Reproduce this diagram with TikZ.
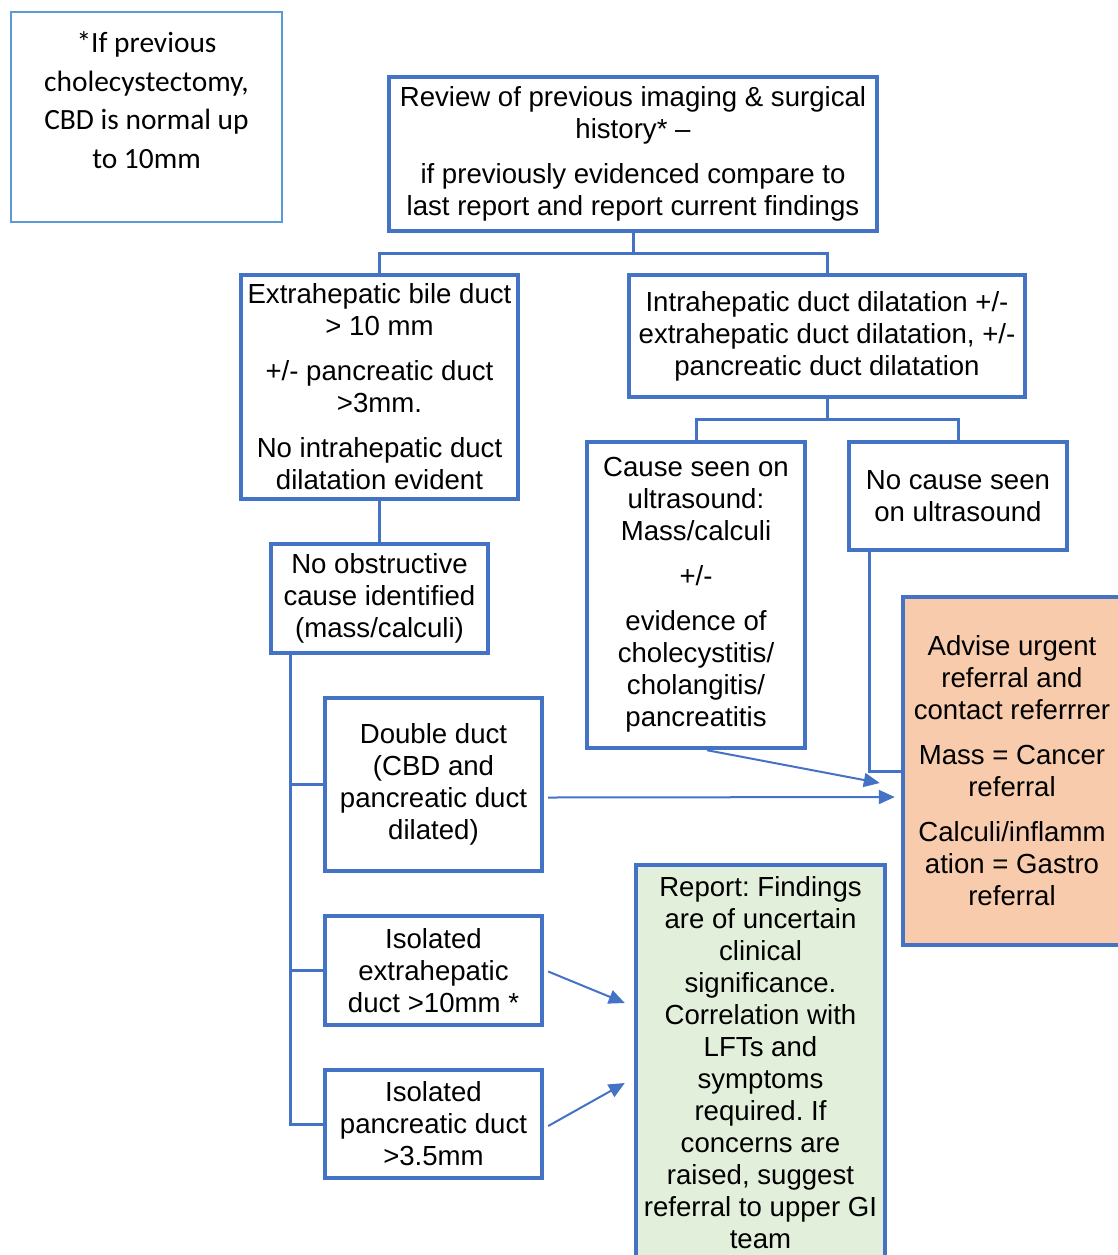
\documentclass[tikz,border=0pt]{standalone}
\usepackage{fontspec}
\setmainfont{Liberation Sans}
\newfontfamily\notefont{Carlito}
\usetikzlibrary{arrows.meta,calc}
\definecolor{bdr}{HTML}{4472C4}
\definecolor{notec}{HTML}{5B9BD5}
\definecolor{orangef}{HTML}{F8CBAD}
\definecolor{greenf}{HTML}{E2EFDA}
\frenchspacing
\begin{document}
\begin{tikzpicture}[x=0.5pt,y=-0.5pt,
 box/.style={draw=bdr, line width=2.2pt, inner sep=0pt, align=center, font=\fontsize{13.8}{16}\selectfont},
 conn/.style={draw=bdr, line width=1.5pt},
 arr/.style={draw=bdr, line width=1pt, -{Triangle[length=8pt,width=7pt]}},
]
\path[use as bounding box] (0,0) rectangle (1118,1255);
\clip (0,0) rectangle (1118,1255);

\node[draw=notec, line width=1pt, minimum width=135.5pt, minimum height=105pt] (note) at (146.5,117) {};
\node[font=\notefont\fontsize{14.7}{19.3}\selectfont, align=center, inner sep=0pt] (notetext) at (146.5,100) {*If previous\\ cholecystectomy,\\ CBD is normal up\\ to 10mm};

\node[box, minimum width=244pt, minimum height=77pt] (top) at (633,154) {Review of previous imaging \& surgical\\ history* –\\[6.5pt] if previously evidenced compare to\\ last report and report current findings};

\node[box, minimum width=138.5pt, minimum height=112pt] (A) at (379.5,387) {Extrahepatic bile duct\\ > 10 mm\\[6.5pt] +/- pancreatic duct\\ >3mm.\\[6.5pt] No intrahepatic duct\\ dilatation evident};

\node[box, minimum width=198pt, minimum height=61pt] (B) at (827,336) {Intrahepatic duct dilatation +/-\\ extrahepatic duct dilatation, +/-\\ pancreatic duct dilatation};

\node[box, minimum width=108.5pt, minimum height=54.5pt] (C) at (379.5,598.5) {No obstructive\\ cause identified\\ (mass/calculi)};

\node[box, minimum width=109pt, minimum height=153pt] (D) at (696,595) {Cause seen on\\ ultrasound:\\ Mass/calculi\\[6.5pt] +/-\\[6.5pt] evidence of\\ cholecystitis/\\ cholangitis/\\ pancreatitis};

\node[box, minimum width=109pt, minimum height=54pt] (E) at (958,496) {No cause seen\\ on ultrasound};

\node[box, fill=orangef, minimum width=109pt, minimum height=174pt] (F) at (1012,771) {Advise urgent\\ referral and\\ contact referrrer\\[6.5pt] Mass = Cancer\\ referral\\[6.5pt] Calculi/inflamm\\ ation = Gastro\\ referral};

\node[box, minimum width=108.5pt, minimum height=86.5pt] (G) at (433.5,784.5) {Double duct\\ (CBD and\\ pancreatic duct\\ dilated)};

\node[box, minimum width=108.5pt, minimum height=54.5pt] (H) at (433.5,970.5) {Isolated\\ extrahepatic\\ duct >10mm *};

\node[box, minimum width=108.5pt, minimum height=54pt] (I) at (433.5,1124) {Isolated\\ pancreatic duct\\ >3.5mm};

\node[box, fill=greenf, minimum width=124.5pt, minimum height=198pt] (J) at (760.5,1063) {Report: Findings\\ are of uncertain\\ clinical\\ significance.\\ Correlation with\\ LFTs and\\ symptoms\\ required. If\\ concerns are\\ raised, suggest\\ referral to upper GI\\ team};

\coordinate (j1) at (633,253);
\draw[conn] (top.south) -- (j1);
\draw[conn] (A.north) |- (j1) -| (B.north);
\draw[conn] (A.south) -- (C.north);
\coordinate (j2) at (827,419);
\draw[conn] (B.south) -- (j2);
\draw[conn] (D.north) |- (j2) -| (E.north);
\coordinate (c0) at ($(C.south west)+(22,0)$);
\draw[conn] (c0) |- (G.west);
\draw[conn] (c0) |- (H.west);
\draw[conn] (c0) |- (I.west);
\coordinate (e0) at ($(E.south west)+(23,0)$);
\draw[conn] (e0) |- (F.west);

\draw[arr] ($(D.south)+(11,0)$) -- ($(F.west)+(-21,12)$);
\draw[arr] ($(G.east)+(4,13)$) -- ($(F.west)+(-6,26)$);
\draw[arr] ($(H.east)+(4,1)$) -- ($(J.west)+(-9,-60)$);
\draw[arr] ($(I.east)+(4,2)$) -- ($(J.west)+(-9,20)$);
\end{tikzpicture}
\end{document}
